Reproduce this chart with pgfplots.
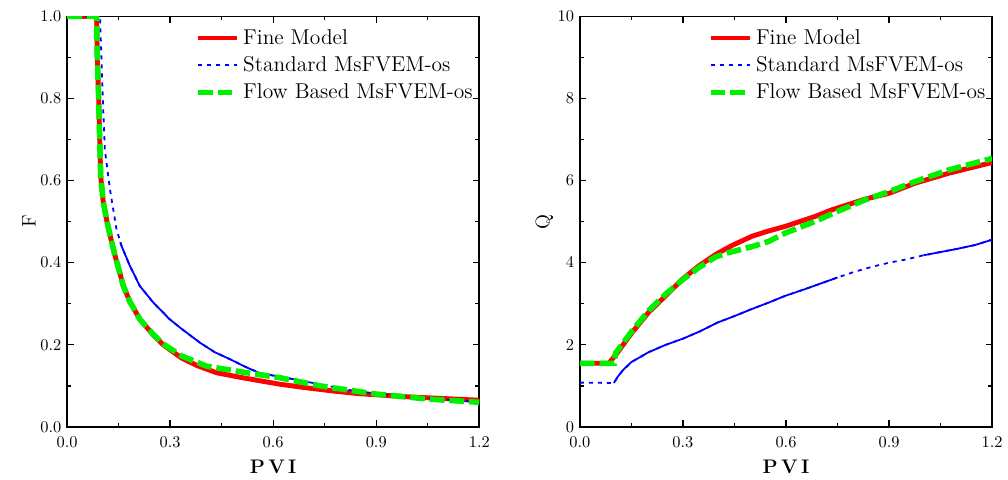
\documentclass[border=0pt]{standalone}
\usepackage{pgfplots}
\pgfplotsset{compat=1.18}

\definecolor{fineR}{HTML}{FF0000}
\definecolor{stdB}{HTML}{0000FF}
\definecolor{flowG}{HTML}{00F000}

\pgfplotsset{
  pvistyle/.style={
    scale only axis, width=252pt, height=251pt,
    xmin=0, xmax=1.2,
    xtick={0,0.3,0.6,0.9,1.2},
    minor x tick num=1, minor y tick num=1,
    xticklabel style={yshift=-2.5pt, /pgf/number format/fixed, /pgf/number format/fixed zerofill, /pgf/number format/precision=1},
    axis line style={line width=1pt},
    tick style={line width=0.8pt, black},
    major tick length=4pt, minor tick length=2.5pt,
    xlabel={\fontsize{12}{14}\selectfont\textbf{P\kern2pt V\kern2pt I}},
    xlabel style={yshift=-1pt},
    ylabel style={yshift=-4pt, font=\large},
    legend style={draw=none, fill=none, at={(0.298,0.985)}, anchor=north west,
      font=\fontsize{13.1}{16}\selectfont, row sep=2pt},
    legend cell align=left,
    legend image code/.code={\draw[#1] (0pt,0pt) -- (24pt,0pt);},
  },
  fine/.style={color=fineR, line width=3pt},
  std/.style={color=stdB, line width=1.1pt, dash pattern=on 2.5pt off 3pt},
  stdsolid/.style={color=stdB, line width=1.1pt},
  flow/.style={color=flowG, line width=3.4pt, dash pattern=on 9pt off 3pt},
}

\begin{document}
\begin{tikzpicture}
% margins as in the original figure
\path (-41pt,-31pt) rectangle (574pt,261pt);
% left: F vs PVI
\begin{axis}[pvistyle,
  ymin=0, ymax=1, ytick={0,0.2,0.4,0.6,0.8,1.0},
  yticklabel style={/pgf/number format/fixed, /pgf/number format/fixed zerofill, /pgf/number format/precision=1},
  ylabel={F},
]
\addplot[fine] coordinates {(0,1) (0.086,1) (0.088,0.9) (0.092,0.8) (0.095,0.7) (0.098,0.61) (0.105,0.55) (0.115,0.505) (0.127,0.46) (0.14,0.416) (0.164,0.343) (0.183,0.305) (0.212,0.262) (0.25,0.225) (0.28,0.2) (0.333,0.168) (0.377,0.15) (0.435,0.132) (0.503,0.121) (0.571,0.111) (0.62,0.104) (0.7,0.095) (0.78,0.087) (0.85,0.081) (1.0,0.073) (1.2,0.065)};
\addlegendentry{Fine Model}
\addplot[std] coordinates {(0,1) (0.096,1) (0.1,0.9) (0.104,0.8) (0.11,0.675) (0.125,0.578) (0.144,0.481) (0.159,0.44) (0.183,0.392) (0.212,0.343) (0.251,0.303) (0.299,0.262) (0.338,0.236) (0.387,0.205) (0.43,0.182) (0.474,0.165) (0.52,0.146) (0.561,0.131) (0.648,0.118) (0.735,0.104) (0.82,0.09) (0.9,0.081) (1.05,0.07) (1.2,0.06)};
\addlegendentry{Standard MsFVEM-os}
\addplot[stdsolid, forget plot] coordinates {(0.155,0.45) (0.159,0.44) (0.183,0.392) (0.212,0.343) (0.251,0.303) (0.299,0.262) (0.338,0.236) (0.387,0.205) (0.43,0.182) (0.474,0.165) (0.52,0.146) (0.561,0.131) (0.648,0.118) (0.735,0.104)};
\addplot[flow] coordinates {(0,1) (0.086,1) (0.088,0.9) (0.092,0.8) (0.095,0.7) (0.098,0.61) (0.105,0.55) (0.115,0.505) (0.127,0.46) (0.14,0.416) (0.164,0.343) (0.183,0.305) (0.212,0.262) (0.25,0.226) (0.28,0.202) (0.333,0.173) (0.406,0.148) (0.5,0.135) (0.619,0.12) (0.735,0.1) (0.9,0.08) (1.05,0.068) (1.2,0.06)};
\addlegendentry{Flow Based MsFVEM-os}
\end{axis}

% right: Q vs PVI
\begin{axis}[pvistyle, at={(313.5pt,0)},
  ymin=0, ymax=10, ytick={0,2,4,6,8,10},
  ylabel={Q},
]
\addplot[fine] coordinates {(0,1.55) (0.084,1.55) (0.104,1.75) (0.152,2.3) (0.2,2.79) (0.249,3.19) (0.3,3.61) (0.346,3.92) (0.395,4.2) (0.443,4.42) (0.5,4.64) (0.54,4.75) (0.6,4.89) (0.686,5.13) (0.734,5.29) (0.831,5.55) (0.9,5.69) (0.977,5.94) (1.074,6.18) (1.2,6.44)};
\addlegendentry{Fine Model}
\addplot[std] coordinates {(0,1.08) (0.099,1.07) (0.11,1.22) (0.125,1.38) (0.15,1.58) (0.2,1.82) (0.25,2.0) (0.3,2.15) (0.35,2.33) (0.4,2.54) (0.45,2.7) (0.5,2.87) (0.55,3.03) (0.6,3.2) (0.65,3.34) (0.7,3.49) (0.75,3.64) (0.8,3.78) (0.85,3.9) (0.9,4.0) (0.95,4.08) (1.0,4.18) (1.05,4.26) (1.1,4.34) (1.15,4.43) (1.2,4.56)};
\addlegendentry{Standard MsFVEM-os}
\addplot[stdsolid, forget plot] coordinates {(0.099,1.07) (0.11,1.22) (0.125,1.38) (0.15,1.58) (0.2,1.82) (0.25,2.0) (0.3,2.15) (0.35,2.33) (0.4,2.54) (0.45,2.7) (0.5,2.87) (0.55,3.03) (0.6,3.2) (0.65,3.34) (0.7,3.49) (0.75,3.64)};
\addplot[stdsolid, forget plot] coordinates {(1.0,4.18) (1.05,4.26) (1.1,4.34) (1.15,4.43) (1.2,4.56)};
\addplot[flow] coordinates {(0,1.55) (0.1,1.55) (0.104,1.8) (0.152,2.34) (0.2,2.83) (0.249,3.23) (0.3,3.59) (0.346,3.88) (0.395,4.14) (0.43,4.24) (0.5,4.39) (0.55,4.52) (0.6,4.73) (0.686,5.01) (0.75,5.25) (0.83,5.53) (0.9,5.73) (0.977,5.98) (1.074,6.26) (1.2,6.54)};
\addlegendentry{Flow Based MsFVEM-os}
\end{axis}
\end{tikzpicture}
\end{document}
